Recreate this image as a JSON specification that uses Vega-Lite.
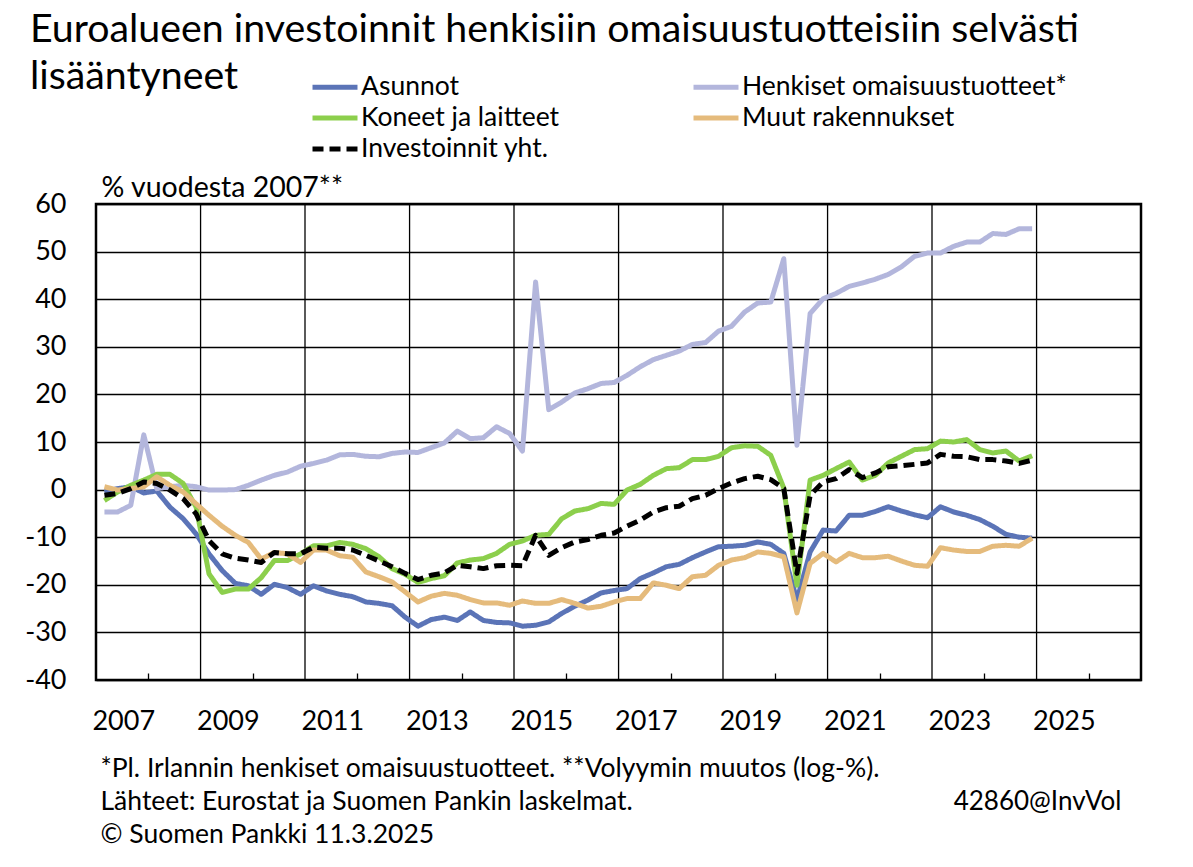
{
  "$schema": "https://vega.github.io/schema/vega-lite/v6.json",
  "width": 1045,
  "height": 476,
  "autosize": {"type": "none"},
  "padding": {"left": 96, "top": 204, "right": 52, "bottom": 187},
  "background": "white",
  "config": {
    "font": "Lato",
    "view": {"stroke": "black", "strokeWidth": 2.5},
    "axis": {"labelFont": "Lato", "titleFont": "Lato", "labelColor": "black", "titleColor": "black", "titleFontWeight": "normal"}
  },
  "title": {
    "text": ["Euroalueen investoinnit henkisiin omaisuustuotteisiin selvästi", "lisääntyneet"],
    "anchor": "start",
    "frame": "group",
    "font": "Lato",
    "fontSize": 39.3,
    "fontWeight": "normal",
    "color": "black",
    "lineHeight": 47,
    "baseline": "top",
    "dx": -66,
    "dy": 24,
    "offset": 0
  },
  "datasets": {
    "vgrid": [
      {"kvartaali": "2009-01-01"}, {"kvartaali": "2011-01-01"}, {"kvartaali": "2013-01-01"},
      {"kvartaali": "2015-01-01"}, {"kvartaali": "2017-01-01"}, {"kvartaali": "2019-01-01"},
      {"kvartaali": "2021-01-01"}, {"kvartaali": "2023-01-01"}, {"kvartaali": "2025-01-01"}
    ],
    "inv": [
      {"kvartaali": "2007-03-01", "Asunnot": -0.5, "Henkiset": -4.7, "Koneet": -2.3, "Muut": 0.6, "Investoinnit": -1.2},
      {"kvartaali": "2007-06-01", "Asunnot": 0.2, "Henkiset": -4.7, "Koneet": -0.5, "Muut": -0.1, "Investoinnit": -0.8},
      {"kvartaali": "2007-09-01", "Asunnot": 0.6, "Henkiset": -3.3, "Koneet": 0.9, "Muut": 0.2, "Investoinnit": 0.2},
      {"kvartaali": "2007-12-01", "Asunnot": -0.7, "Henkiset": 11.5, "Koneet": 2.0, "Muut": 0.6, "Investoinnit": 1.6},
      {"kvartaali": "2008-03-01", "Asunnot": -0.3, "Henkiset": 0.2, "Koneet": 3.2, "Muut": 2.7, "Investoinnit": 1.3},
      {"kvartaali": "2008-06-01", "Asunnot": -3.7, "Henkiset": 0.6, "Koneet": 3.2, "Muut": 0.9, "Investoinnit": -0.1},
      {"kvartaali": "2008-09-01", "Asunnot": -6.1, "Henkiset": 0.9, "Koneet": 1.3, "Muut": -0.5, "Investoinnit": -1.9},
      {"kvartaali": "2008-12-01", "Asunnot": -9.3, "Henkiset": 0.6, "Koneet": -3.7, "Muut": -3.0, "Investoinnit": -5.1},
      {"kvartaali": "2009-03-01", "Asunnot": -13.5, "Henkiset": -0.1, "Koneet": -17.7, "Muut": -5.4, "Investoinnit": -10.7},
      {"kvartaali": "2009-06-01", "Asunnot": -17.0, "Henkiset": -0.1, "Koneet": -21.6, "Muut": -7.7, "Investoinnit": -13.5},
      {"kvartaali": "2009-09-01", "Asunnot": -19.7, "Henkiset": 0.0, "Koneet": -20.9, "Muut": -9.6, "Investoinnit": -14.4},
      {"kvartaali": "2009-12-01", "Asunnot": -20.2, "Henkiset": 0.9, "Koneet": -20.9, "Muut": -11.1, "Investoinnit": -14.8},
      {"kvartaali": "2010-03-01", "Asunnot": -22.0, "Henkiset": 2.0, "Koneet": -18.5, "Muut": -14.6, "Investoinnit": -15.3},
      {"kvartaali": "2010-06-01", "Asunnot": -19.9, "Henkiset": 3.0, "Koneet": -14.9, "Muut": -13.2, "Investoinnit": -13.2},
      {"kvartaali": "2010-09-01", "Asunnot": -20.6, "Henkiset": 3.7, "Koneet": -14.9, "Muut": -13.5, "Investoinnit": -13.5},
      {"kvartaali": "2010-12-01", "Asunnot": -22.0, "Henkiset": 4.9, "Koneet": -13.5, "Muut": -15.3, "Investoinnit": -13.5},
      {"kvartaali": "2011-03-01", "Asunnot": -20.2, "Henkiset": 5.5, "Koneet": -11.8, "Muut": -12.7, "Investoinnit": -12.1},
      {"kvartaali": "2011-06-01", "Asunnot": -21.3, "Henkiset": 6.2, "Koneet": -11.8, "Muut": -12.7, "Investoinnit": -12.3},
      {"kvartaali": "2011-09-01", "Asunnot": -22.0, "Henkiset": 7.3, "Koneet": -11.1, "Muut": -13.9, "Investoinnit": -12.3},
      {"kvartaali": "2011-12-01", "Asunnot": -22.5, "Henkiset": 7.4, "Koneet": -11.5, "Muut": -14.2, "Investoinnit": -12.7},
      {"kvartaali": "2012-03-01", "Asunnot": -23.6, "Henkiset": 7.0, "Koneet": -12.4, "Muut": -17.3, "Investoinnit": -13.8},
      {"kvartaali": "2012-06-01", "Asunnot": -23.9, "Henkiset": 6.9, "Koneet": -14.1, "Muut": -18.3, "Investoinnit": -15.0},
      {"kvartaali": "2012-09-01", "Asunnot": -24.4, "Henkiset": 7.6, "Koneet": -16.6, "Muut": -19.4, "Investoinnit": -16.2},
      {"kvartaali": "2012-12-01", "Asunnot": -26.8, "Henkiset": 7.9, "Koneet": -17.8, "Muut": -21.5, "Investoinnit": -17.6},
      {"kvartaali": "2013-03-01", "Asunnot": -28.7, "Henkiset": 7.8, "Koneet": -19.5, "Muut": -23.6, "Investoinnit": -18.9},
      {"kvartaali": "2013-06-01", "Asunnot": -27.3, "Henkiset": 8.8, "Koneet": -18.7, "Muut": -22.4, "Investoinnit": -18.0},
      {"kvartaali": "2013-09-01", "Asunnot": -26.8, "Henkiset": 9.8, "Koneet": -18.1, "Muut": -21.8, "Investoinnit": -17.5},
      {"kvartaali": "2013-12-01", "Asunnot": -27.5, "Henkiset": 12.3, "Koneet": -15.4, "Muut": -22.2, "Investoinnit": -15.9},
      {"kvartaali": "2014-03-01", "Asunnot": -25.7, "Henkiset": 10.7, "Koneet": -14.8, "Muut": -23.1, "Investoinnit": -16.2},
      {"kvartaali": "2014-06-01", "Asunnot": -27.5, "Henkiset": 10.9, "Koneet": -14.5, "Muut": -23.8, "Investoinnit": -16.6},
      {"kvartaali": "2014-09-01", "Asunnot": -27.9, "Henkiset": 13.2, "Koneet": -13.4, "Muut": -23.8, "Investoinnit": -16.0},
      {"kvartaali": "2014-12-01", "Asunnot": -28.0, "Henkiset": 11.8, "Koneet": -11.5, "Muut": -24.3, "Investoinnit": -15.9},
      {"kvartaali": "2015-03-01", "Asunnot": -28.7, "Henkiset": 8.1, "Koneet": -10.8, "Muut": -23.4, "Investoinnit": -16.0},
      {"kvartaali": "2015-06-01", "Asunnot": -28.5, "Henkiset": 43.6, "Koneet": -9.6, "Muut": -23.9, "Investoinnit": -9.6},
      {"kvartaali": "2015-09-01", "Asunnot": -27.8, "Henkiset": 16.8, "Koneet": -9.4, "Muut": -23.9, "Investoinnit": -13.8},
      {"kvartaali": "2015-12-01", "Asunnot": -26.0, "Henkiset": 18.4, "Koneet": -6.1, "Muut": -23.1, "Investoinnit": -12.2},
      {"kvartaali": "2016-03-01", "Asunnot": -24.5, "Henkiset": 20.3, "Koneet": -4.5, "Muut": -23.9, "Investoinnit": -11.0},
      {"kvartaali": "2016-06-01", "Asunnot": -23.2, "Henkiset": 21.2, "Koneet": -4.0, "Muut": -24.9, "Investoinnit": -10.5},
      {"kvartaali": "2016-09-01", "Asunnot": -21.7, "Henkiset": 22.3, "Koneet": -2.9, "Muut": -24.5, "Investoinnit": -9.6},
      {"kvartaali": "2016-12-01", "Asunnot": -21.2, "Henkiset": 22.5, "Koneet": -3.1, "Muut": -23.6, "Investoinnit": -9.1},
      {"kvartaali": "2017-03-01", "Asunnot": -20.8, "Henkiset": 24.0, "Koneet": -0.1, "Muut": -22.9, "Investoinnit": -7.7},
      {"kvartaali": "2017-06-01", "Asunnot": -18.7, "Henkiset": 25.8, "Koneet": 1.1, "Muut": -22.9, "Investoinnit": -6.4},
      {"kvartaali": "2017-09-01", "Asunnot": -17.5, "Henkiset": 27.3, "Koneet": 3.0, "Muut": -19.6, "Investoinnit": -4.7},
      {"kvartaali": "2017-12-01", "Asunnot": -16.2, "Henkiset": 28.2, "Koneet": 4.4, "Muut": -20.1, "Investoinnit": -3.8},
      {"kvartaali": "2018-03-01", "Asunnot": -15.7, "Henkiset": 29.1, "Koneet": 4.6, "Muut": -20.8, "Investoinnit": -3.5},
      {"kvartaali": "2018-06-01", "Asunnot": -14.3, "Henkiset": 30.5, "Koneet": 6.3, "Muut": -18.3, "Investoinnit": -1.9},
      {"kvartaali": "2018-09-01", "Asunnot": -13.1, "Henkiset": 30.9, "Koneet": 6.3, "Muut": -18.0, "Investoinnit": -1.2},
      {"kvartaali": "2018-12-01", "Asunnot": -12.0, "Henkiset": 33.3, "Koneet": 7.0, "Muut": -15.9, "Investoinnit": 0.2},
      {"kvartaali": "2019-03-01", "Asunnot": -11.9, "Henkiset": 34.3, "Koneet": 8.8, "Muut": -14.8, "Investoinnit": 1.4},
      {"kvartaali": "2019-06-01", "Asunnot": -11.7, "Henkiset": 37.3, "Koneet": 9.2, "Muut": -14.3, "Investoinnit": 2.3},
      {"kvartaali": "2019-09-01", "Asunnot": -11.0, "Henkiset": 39.2, "Koneet": 9.1, "Muut": -13.1, "Investoinnit": 2.8},
      {"kvartaali": "2019-12-01", "Asunnot": -11.5, "Henkiset": 39.4, "Koneet": 7.2, "Muut": -13.4, "Investoinnit": 2.1},
      {"kvartaali": "2020-03-01", "Asunnot": -13.4, "Henkiset": 48.5, "Koneet": 0.3, "Muut": -14.1, "Investoinnit": 0.2},
      {"kvartaali": "2020-06-01", "Asunnot": -23.2, "Henkiset": 9.3, "Koneet": -20.1, "Muut": -25.9, "Investoinnit": -17.6},
      {"kvartaali": "2020-09-01", "Asunnot": -13.1, "Henkiset": 37.0, "Koneet": 2.0, "Muut": -15.5, "Investoinnit": -1.2},
      {"kvartaali": "2020-12-01", "Asunnot": -8.5, "Henkiset": 40.1, "Koneet": 3.0, "Muut": -13.4, "Investoinnit": 1.6},
      {"kvartaali": "2021-03-01", "Asunnot": -8.7, "Henkiset": 41.2, "Koneet": 4.4, "Muut": -15.2, "Investoinnit": 2.3},
      {"kvartaali": "2021-06-01", "Asunnot": -5.4, "Henkiset": 42.7, "Koneet": 5.8, "Muut": -13.4, "Investoinnit": 4.2},
      {"kvartaali": "2021-09-01", "Asunnot": -5.4, "Henkiset": 43.4, "Koneet": 2.0, "Muut": -14.3, "Investoinnit": 2.5},
      {"kvartaali": "2021-12-01", "Asunnot": -4.6, "Henkiset": 44.2, "Koneet": 3.0, "Muut": -14.3, "Investoinnit": 3.5},
      {"kvartaali": "2022-03-01", "Asunnot": -3.6, "Henkiset": 45.2, "Koneet": 5.6, "Muut": -14.0, "Investoinnit": 4.8},
      {"kvartaali": "2022-06-01", "Asunnot": -4.5, "Henkiset": 46.8, "Koneet": 7.0, "Muut": -15.0, "Investoinnit": 5.0},
      {"kvartaali": "2022-09-01", "Asunnot": -5.3, "Henkiset": 49.0, "Koneet": 8.4, "Muut": -15.9, "Investoinnit": 5.3},
      {"kvartaali": "2022-12-01", "Asunnot": -5.9, "Henkiset": 49.7, "Koneet": 8.6, "Muut": -16.1, "Investoinnit": 5.6},
      {"kvartaali": "2023-03-01", "Asunnot": -3.6, "Henkiset": 49.7, "Koneet": 10.2, "Muut": -12.2, "Investoinnit": 7.4},
      {"kvartaali": "2023-06-01", "Asunnot": -4.7, "Henkiset": 51.1, "Koneet": 10.0, "Muut": -12.7, "Investoinnit": 7.0},
      {"kvartaali": "2023-09-01", "Asunnot": -5.4, "Henkiset": 52.0, "Koneet": 10.5, "Muut": -13.0, "Investoinnit": 6.9},
      {"kvartaali": "2023-12-01", "Asunnot": -6.3, "Henkiset": 52.0, "Koneet": 8.4, "Muut": -13.0, "Investoinnit": 6.3},
      {"kvartaali": "2024-03-01", "Asunnot": -7.7, "Henkiset": 53.8, "Koneet": 7.7, "Muut": -11.9, "Investoinnit": 6.3},
      {"kvartaali": "2024-06-01", "Asunnot": -9.4, "Henkiset": 53.6, "Koneet": 8.1, "Muut": -11.7, "Investoinnit": 6.0},
      {"kvartaali": "2024-09-01", "Asunnot": -10.0, "Henkiset": 54.8, "Koneet": 6.0, "Muut": -11.9, "Investoinnit": 5.5},
      {"kvartaali": "2024-12-01", "Asunnot": -10.2, "Henkiset": 54.8, "Koneet": 7.1, "Muut": -10.2, "Investoinnit": 6.2}
    ]
  },
  "encoding": {
    "x": {
      "field": "kvartaali",
      "type": "temporal",
      "scale": {
        "type": "utc",
        "domain": [{"year": 2007, "month": 1, "date": 1, "utc": true}, {"year": 2027, "month": 1, "date": 1, "utc": true}]
      },
      "axis": {
        "values": [
          {"year": 2008, "month": 1, "date": 1, "utc": true}, {"year": 2010, "month": 1, "date": 1, "utc": true},
          {"year": 2012, "month": 1, "date": 1, "utc": true}, {"year": 2014, "month": 1, "date": 1, "utc": true},
          {"year": 2016, "month": 1, "date": 1, "utc": true}, {"year": 2018, "month": 1, "date": 1, "utc": true},
          {"year": 2020, "month": 1, "date": 1, "utc": true}, {"year": 2022, "month": 1, "date": 1, "utc": true},
          {"year": 2024, "month": 1, "date": 1, "utc": true}, {"year": 2026, "month": 1, "date": 1, "utc": true}
        ],
        "labelExpr": "'' + (utcyear(datum.value) - 1)",
        "labelOffset": -25,
        "labelFlush": false,
        "labelOverlap": false,
        "labelFontSize": 27,
        "labelPadding": 35,
        "ticks": true,
        "tickSize": -7,
        "tickColor": "black",
        "tickWidth": 1.3,
        "grid": false,
        "domain": false,
        "title": ["*Pl. Irlannin henkiset omaisuustuotteet. **Volyymin muutos (log-%).", "Lähteet: Eurostat ja Suomen Pankin laskelmat.", "© Suomen Pankki 11.3.2025"],
        "titleFontSize": 26.5,
        "titleLineHeight": 33,
        "titleAlign": "left",
        "titleAnchor": "start",
        "titleBaseline": "top",
        "titleX": 4,
        "titleY": 75
      }
    }
  },
  "layer": [
    {
      "data": {"name": "vgrid"},
      "mark": {"type": "rule", "color": "black", "strokeWidth": 1.3},
      "encoding": {
        "y": {
          "datum": -40,
          "type": "quantitative",
          "scale": {"domain": [-40, 60], "nice": false, "zero": false},
          "axis": {
            "orient": "right",
            "labels": false,
            "ticks": false,
            "domain": false,
            "grid": false,
            "title": "42860@InvVol",
            "titleFontSize": 26,
            "titleAngle": 0,
            "titleAlign": "right",
            "titleBaseline": "middle",
            "titleX": -20,
            "titleY": 597
          }
        },
        "y2": {"datum": 60}
      }
    },
    {
      "data": {"name": "inv"},
      "transform": [{"fold": ["Asunnot", "Henkiset", "Koneet", "Muut", "Investoinnit"], "as": ["sarja", "arvo"]}],
      "mark": {"type": "line", "strokeWidth": 5, "strokeJoin": "round"},
      "encoding": {
        "y": {
          "field": "arvo",
          "type": "quantitative",
          "scale": {"domain": [-40, 60], "nice": false, "zero": false},
          "axis": {
            "orient": "left",
            "values": [-40, -30, -20, -10, 0, 10, 20, 30, 40, 50, 60],
            "labelExpr": "'' + datum.value",
            "grid": true,
            "gridColor": "black",
            "gridWidth": 1.3,
            "gridOpacity": 1,
            "domain": false,
            "ticks": false,
            "labelFontSize": 27,
            "labelPadding": 30,
            "title": "% vuodesta 2007**",
            "titleFontSize": 28.5,
            "titleAngle": 0,
            "titleAlign": "left",
            "titleBaseline": "middle",
            "titleX": 5,
            "titleY": -17
          }
        },
        "color": {
          "field": "sarja",
          "type": "nominal",
          "scale": {
            "domain": ["Asunnot", "Henkiset", "Koneet", "Muut", "Investoinnit"],
            "range": ["#5b74b7", "#b3b6dc", "#8ccf4c", "#e5bb7c", "#000000"]
          },
          "legend": {
            "title": null,
            "orient": "none",
            "direction": "horizontal",
            "legendX": 225,
            "legendY": -131,
            "columns": 2,
            "symbolType": "M-2,0H2",
            "symbolSize": 506,
            "symbolStrokeWidth": 5,
            "labelFont": "Lato",
            "labelFontSize": 26.5,
            "labelColor": "black",
            "labelLimit": 600,
            "labelOffset": 12,
            "columnPadding": 123,
            "rowPadding": 3,
            "labelExpr": "datum.label == 'Henkiset' ? 'Henkiset omaisuustuotteet*' : datum.label == 'Koneet' ? 'Koneet ja laitteet' : datum.label == 'Muut' ? 'Muut rakennukset' : datum.label == 'Investoinnit' ? 'Investoinnit yht.' : datum.label"
          }
        },
        "strokeDash": {
          "field": "sarja",
          "type": "nominal",
          "scale": {
            "domain": ["Asunnot", "Henkiset", "Koneet", "Muut", "Investoinnit"],
            "range": [[1, 0], [1, 0], [1, 0], [1, 0], [11, 6]]
          },
          "legend": {
            "title": null,
            "orient": "none",
            "direction": "horizontal",
            "legendX": 225,
            "legendY": -131,
            "columns": 2,
            "symbolType": "M-2,0H2",
            "symbolSize": 506,
            "symbolStrokeWidth": 5,
            "labelFont": "Lato",
            "labelFontSize": 26.5,
            "labelColor": "black",
            "labelLimit": 600,
            "labelOffset": 12,
            "columnPadding": 123,
            "rowPadding": 3,
            "labelExpr": "datum.label == 'Henkiset' ? 'Henkiset omaisuustuotteet*' : datum.label == 'Koneet' ? 'Koneet ja laitteet' : datum.label == 'Muut' ? 'Muut rakennukset' : datum.label == 'Investoinnit' ? 'Investoinnit yht.' : datum.label"
          }
        }
      }
    }
  ],
  "resolve": {"scale": {"y": "independent"}, "axis": {"y": "independent"}}
}
